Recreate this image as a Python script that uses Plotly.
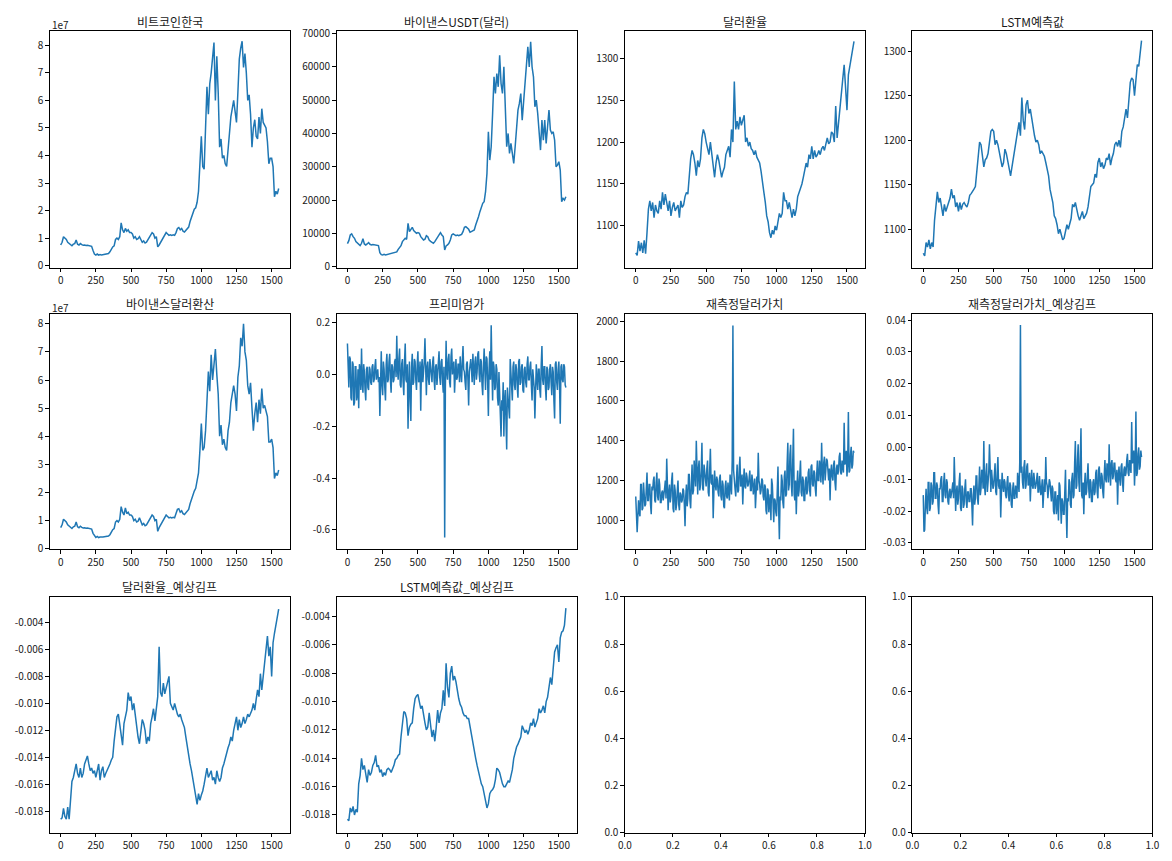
import plotly.graph_objects as go
from plotly.subplots import make_subplots

# ---------------- data ----------------
# values read off the picture; each series is sampled at a fixed step of the index
btc_krw_1e7 = [
    0.75, 0.85, 1.05, 1.0, 0.95, 0.85, 0.8, 0.75, 0.72, 0.78,
    0.8, 0.93, 0.78, 0.75, 0.8, 0.76, 0.74, 0.75, 0.73, 0.74,
    0.73, 0.72, 0.7, 0.55, 0.42, 0.38, 0.42, 0.38, 0.4, 0.39,
    0.4, 0.42, 0.43, 0.45, 0.44, 0.5, 0.6, 0.68, 0.72, 0.95,
    1.0, 0.95, 1.05, 1.55, 1.3, 1.2, 1.35, 1.25, 1.3, 1.2,
    1.2, 1.15, 1.0, 1.05, 0.95, 0.98, 1.05, 0.95, 0.85, 0.9,
    0.82, 0.85, 0.95, 1.0, 1.1, 1.2, 1.15, 1.0, 1.05, 0.68,
    0.75, 0.85, 0.95, 1.05, 1.15, 1.2, 1.15, 1.1, 1.12, 1.1,
    1.12, 1.1, 1.2, 1.35, 1.38, 1.3, 1.35, 1.25, 1.22, 1.28,
    1.3, 1.4, 1.6, 1.75, 1.95, 2.05, 2.1, 2.3, 2.7, 3.6,
    4.7, 3.6, 3.5, 5.0, 6.5, 5.5, 6.6, 7.0, 7.6, 8.1,
    6.0, 7.6, 6.3, 4.3, 4.6, 3.9, 4.0, 3.7, 3.6, 4.3,
    5.0, 5.4, 5.7, 6.0, 5.6, 5.2, 6.3, 7.5, 7.9, 8.15,
    7.2, 7.7, 7.0, 6.0, 6.2, 5.5, 4.3, 5.0, 5.3, 4.7,
    4.6, 5.4, 4.8, 5.7, 5.2, 5.1, 5.0, 4.5, 3.7, 3.9,
    3.9, 3.6, 2.5, 2.7, 2.6, 2.8,
]

binance_usdt = [
    6900, 7800, 9500, 9800, 9000, 8500, 7500, 7000, 6500, 6300,
    7000, 8400, 6800, 6500, 6800, 7200, 6700, 6500, 6600, 6500,
    6600, 6500, 6300, 4200, 3600, 3500, 3700, 3500, 3600, 3700,
    3800, 3900, 4000, 4100, 4200, 4400, 5200, 5800, 6300, 7500,
    8000, 8500, 8200, 13000, 10500, 11000, 11800, 10800, 10500, 10000,
    10200, 10000, 9000, 8500, 8000, 8200, 9300, 9000, 8000, 7600,
    7200, 7000, 7500, 8200, 8800, 9500, 10200, 9500, 9000, 5000,
    6200, 6500, 7000, 8000, 9500, 9800, 9400, 9300, 9500, 9300,
    9500, 9700, 10500, 11800, 12000, 11500, 11200, 10300, 10500, 10800,
    11000, 12500, 13500, 15000, 16500, 18000, 19000, 19500, 22500, 28000,
    40500, 32000, 36000, 46000, 57000, 52000, 58000, 54000, 63500, 55000,
    52000, 60000, 48000, 36000, 40000, 34000, 37000, 33500, 31000, 36000,
    42000, 47000, 49000, 52000, 44000, 50000, 55000, 61000, 66000, 60000,
    67500, 60000, 57000, 48000, 50000, 46000, 41000, 35000, 44000, 38000,
    44000, 37000, 42000, 47000, 41000, 40000, 40500, 38000, 30000, 30500,
    31500, 29000, 19500, 20500, 20000, 21000,
]

usd_krw = [
    1068, 1065, 1082, 1070, 1080, 1068, 1083, 1067, 1092, 1120,
    1130, 1118, 1128, 1110, 1125, 1118, 1115, 1130, 1120, 1140,
    1125, 1138, 1128, 1118, 1130, 1112, 1122, 1128, 1118, 1122,
    1125, 1110, 1130, 1122, 1125, 1135, 1140, 1138, 1165, 1180,
    1190, 1185, 1175, 1160, 1178, 1170, 1180, 1205, 1215, 1210,
    1200, 1190, 1185, 1200, 1185, 1165, 1158, 1175, 1185, 1178,
    1170, 1158, 1165, 1170, 1185, 1190, 1195, 1182, 1215, 1200,
    1272, 1215, 1225, 1215, 1230, 1220, 1225, 1232, 1200, 1205,
    1195, 1200, 1192, 1190, 1185, 1190, 1182, 1178, 1175, 1165,
    1155, 1140, 1128, 1112, 1105, 1092, 1086, 1095, 1090, 1100,
    1095, 1105, 1115, 1110, 1115, 1140, 1130, 1130, 1120, 1128,
    1118, 1110, 1120, 1112, 1120, 1135, 1140, 1145, 1150, 1158,
    1165, 1175, 1170, 1185, 1180, 1195, 1180, 1190, 1182, 1185,
    1190, 1185, 1192, 1195, 1190, 1200, 1205, 1198, 1200, 1212,
    1210, 1200, 1243, 1205, 1225, 1235, 1265, 1275, 1292, 1265,
    1238, 1280, 1292, 1300, 1310, 1320,
]

lstm_pred = [
    1073, 1070, 1085, 1080, 1088, 1078, 1085, 1080, 1110, 1125,
    1142, 1130, 1135, 1125, 1115, 1128, 1120, 1125, 1130, 1135,
    1145, 1135, 1138, 1125, 1130, 1120, 1130, 1122, 1128, 1130,
    1127, 1125, 1130, 1138, 1140, 1142, 1145, 1148, 1165, 1185,
    1198, 1195, 1182, 1170, 1178, 1180, 1185, 1195, 1210, 1212,
    1210, 1195, 1200, 1195, 1185, 1180, 1170, 1175, 1190, 1185,
    1175, 1165, 1160, 1170, 1180, 1185, 1195, 1210, 1220, 1205,
    1248, 1222, 1212, 1240, 1245, 1230, 1235, 1225, 1212, 1205,
    1198, 1200, 1195, 1185, 1188, 1185, 1182, 1175, 1168, 1160,
    1145, 1138, 1130, 1115, 1112, 1105, 1095, 1100, 1093, 1088,
    1090, 1100, 1105, 1100, 1108, 1112, 1128, 1125, 1130, 1120,
    1115, 1110, 1115, 1120, 1112, 1115, 1118, 1125, 1135, 1148,
    1150, 1152, 1162, 1158, 1175, 1180, 1170, 1175, 1168, 1172,
    1180, 1178, 1185, 1172, 1180, 1185, 1195, 1198, 1193, 1200,
    1192, 1210, 1215, 1225, 1235, 1225, 1245, 1265, 1270, 1268,
    1250, 1270, 1285, 1283, 1295, 1312,
]

binance_krw_1e7 = [
    0.75, 0.85, 1.05, 1.0, 0.95, 0.85, 0.8, 0.75, 0.72, 0.78,
    0.8, 0.95, 0.78, 0.75, 0.8, 0.76, 0.74, 0.75, 0.73, 0.74,
    0.73, 0.72, 0.7, 0.55, 0.45, 0.4, 0.44, 0.4, 0.42, 0.41,
    0.42, 0.43, 0.44, 0.46, 0.45, 0.5, 0.6, 0.68, 0.72, 0.95,
    1.0, 0.95, 1.05, 1.5, 1.3, 1.2, 1.45, 1.25, 1.3, 1.2,
    1.2, 1.15, 1.0, 1.05, 0.95, 0.98, 1.1, 0.95, 0.85, 0.9,
    0.82, 0.85, 0.95, 1.0, 1.1, 1.2, 1.15, 1.0, 1.05, 0.62,
    0.75, 0.85, 0.95, 1.05, 1.15, 1.2, 1.15, 1.1, 1.12, 1.1,
    1.12, 1.1, 1.25, 1.4, 1.42, 1.3, 1.35, 1.25, 1.22, 1.28,
    1.3, 1.4, 1.6, 1.75, 1.95, 2.05, 2.15, 2.4, 2.7, 3.5,
    4.45, 3.5, 3.6, 4.2, 5.5, 6.3, 5.6, 6.9, 6.0, 6.5,
    7.1, 6.2, 5.5, 4.0, 4.4, 3.7, 3.9, 3.6, 3.5, 4.2,
    4.5, 5.2, 5.6, 5.8, 5.5, 4.9, 6.1, 6.5, 7.5, 7.2,
    8.0, 7.0, 6.7, 5.8, 5.5, 5.9, 5.0, 4.2, 4.8, 5.2,
    4.5, 5.3, 4.8, 5.7, 5.0, 5.1, 4.9, 4.7, 3.8, 3.8,
    3.9, 3.6, 2.5, 2.7, 2.6, 2.8,
]

premium = [
    0.12, 0.02, -0.05, 0.07, 0.06, -0.09, -0.10, 0.05, 0.04, -0.12, -0.11, 0.03, 0.03, -0.10, -0.08, 0.02, -0.13, 0.04, 0.02, -0.06,
    0.10, -0.03, -0.07, 0.04, 0.01, -0.06, -0.10, 0.02, 0.03, -0.05, -0.06, 0.03, 0.02, -0.03, -0.04, 0.03, 0.04, -0.03, -0.02, 0.03,
    0.06, -0.02, 0.00, 0.02, -0.03, -0.01, -0.16, 0.03, 0.09, -0.04, -0.08, 0.05, 0.02, -0.05, -0.10, 0.04, 0.08, -0.03, -0.02, 0.05,
    0.08, -0.02, -0.07, 0.04, 0.03, -0.03, -0.02, 0.05, 0.06, -0.01, 0.15, 0.02, -0.02, 0.06, 0.10, -0.04, -0.05, 0.04, 0.06, -0.03,
    -0.08, 0.05, 0.12, -0.02, -0.03, 0.04, -0.21, -0.05, 0.05, -0.10, -0.18, 0.03, 0.08, -0.04, -0.03, 0.06, 0.05, -0.02, -0.06, 0.04,
    0.09, -0.03, -0.02, 0.05, -0.14, 0.02, 0.06, -0.03, 0.01, 0.05, 0.14, -0.04, -0.08, 0.03, 0.05, -0.02, -0.04, 0.06, 0.03, -0.03,
    -0.03, 0.05, 0.07, -0.02, -0.06, 0.03, 0.04, -0.04, 0.00, 0.06, 0.09, -0.01, -0.04, 0.05, 0.06, -0.03, -0.07, 0.03, -0.63, -0.05,
    0.13, 0.01, -0.02, 0.06, 0.08, -0.03, -0.05, 0.07, 0.10, 0.00, 0.02, 0.05, -0.07, 0.03, 0.06, -0.02, -0.01, 0.04, 0.04, -0.03,
    0.07, 0.01, -0.03, 0.05, 0.11, 0.02, 0.01, -0.03, -0.06, 0.04, 0.05, -0.02, -0.12, 0.01, 0.04, 0.06, 0.02, -0.03, 0.08, 0.03,
    -0.04, 0.05, 0.07, -0.02, 0.01, 0.08, 0.09, 0.00, -0.03, 0.06, 0.05, -0.04, -0.08, 0.03, 0.10, 0.02, -0.06, 0.07, 0.06, -0.03,
    -0.16, 0.02, 0.09, -0.02, 0.19, 0.03, -0.10, 0.05, 0.03, -0.06, -0.05, 0.04, 0.02, -0.09, -0.12, 0.01, -0.08, -0.15, -0.24, -0.10,
    -0.14, -0.03, -0.24, -0.10, -0.06, -0.18, -0.29, -0.05, -0.08, -0.12, -0.17, 0.06, 0.02, -0.05, -0.10, 0.03, 0.05, -0.04, -0.06, 0.04,
    0.02, -0.05, -0.09, 0.05, 0.06, -0.04, -0.03, 0.03, 0.04, -0.06, -0.07, 0.02, 0.03, -0.03, -0.05, 0.04, 0.07, -0.02, -0.02, 0.03,
    0.05, -0.04, -0.10, 0.02, -0.01, -0.05, -0.17, 0.03, 0.04, -0.02, -0.06, 0.02, 0.02, -0.06, -0.09, 0.04, 0.11, -0.02, -0.04, 0.03,
    0.03, -0.05, -0.10, 0.03, 0.02, -0.06, -0.05, 0.02, 0.04, -0.03, -0.08, 0.03, 0.01, -0.10, -0.17, 0.04, 0.05, -0.03, -0.06, 0.02,
    0.05, -0.04, -0.19, 0.03, 0.04, -0.02, -0.03, 0.04, 0.03, -0.04, -0.05,
]

usd_value_remeasured = [
    1120, 945, 940, 1020, 1100, 1040, 1020, 1180, 1180, 1050, 1060, 1190, 1150, 1070, 1080, 1240, 1240, 1100, 1100, 1180,
    1180, 1080, 1030, 1170, 1150, 1200, 1220, 1100, 1090, 1190, 1240, 1120, 1100, 1210, 1180, 1090, 1090, 1140, 1150, 1100,
    1120, 1160, 1200, 1110, 1310, 1120, 1050, 1140, 1180, 1090, 1120, 1200, 1240, 1060, 1040, 1180, 1150, 1050, 1080, 1150,
    1200, 1080, 1050, 1140, 1130, 1090, 1100, 1160, 1150, 1080, 970, 1120, 1180, 1070, 1110, 1230, 1230, 1100, 1060, 1180,
    1280, 1130, 1150, 1300, 1250, 1170, 1400, 1180, 1130, 1260, 1300, 1150, 1180, 1250, 1390, 1160, 1150, 1280, 1230, 1170,
    1170, 1260, 1300, 1140, 1120, 1250, 1360, 1190, 1180, 1230, 1010, 1150, 1250, 1180, 1150, 1220, 1200, 1140, 1120, 1210,
    1230, 1120, 1100, 1200, 1180, 1070, 1060, 1170, 1200, 1120, 1110, 1190, 1150, 1100, 1230, 1180, 1130, 1300, 1980, 1250,
    1220, 1160, 1120, 1250, 1280, 1140, 1150, 1260, 1320, 1170, 1180, 1230, 1080, 1190, 1260, 1170, 1160, 1240, 1220, 1170,
    1180, 1210, 1250, 1150, 1150, 1230, 1200, 1130, 1160, 1210, 1060, 1190, 1220, 1150, 1340, 1200, 1180, 1130, 1150, 1210,
    1200, 1120, 1100, 1180, 1170, 1050, 1030, 1160, 1150, 1040, 1070, 1130, 1000, 1210, 1180, 1020, 990, 1110, 1100, 1040,
    1020, 1150, 1270, 1050, 905, 1120, 1100, 1230, 1200, 1090, 1060, 1220, 1250, 1120, 1130, 1280, 1390, 1150, 1180, 1330,
    1380, 1180, 1120, 1300, 1460, 1130, 1100, 1200, 1030, 1170, 1250, 1120, 1150, 1230, 1300, 1140, 1120, 1220, 1200, 1100,
    1100, 1200, 1220, 1130, 1150, 1240, 1260, 1150, 1120, 1270, 1280, 1180, 1170, 1250, 1240, 1160, 1120, 1230, 1300, 1200,
    1200, 1300, 1270, 1190, 1390, 1250, 1180, 1290, 1320, 1200, 1240, 1310, 1300, 1220, 1200, 1260, 1100, 1240, 1280, 1220,
    1200, 1280, 1300, 1190, 1150, 1260, 1280, 1230, 1250, 1320, 1340, 1240, 1230, 1300, 1260, 1240, 1490, 1280, 1300, 1350,
    1220, 1290, 1545, 1240, 1250, 1330, 1370, 1260, 1280, 1350, 1340,
]

usd_value_kimp = [
    -0.015, -0.0265, -0.026, -0.018, -0.013, -0.019, -0.021, -0.011, -0.011, -0.020, -0.019, -0.011, -0.012, -0.018, -0.017, -0.008, -0.008, -0.016, -0.016, -0.011,
    -0.012, -0.018, -0.021, -0.013, -0.013, -0.010, -0.009, -0.017, -0.017, -0.011, -0.008, -0.015, -0.016, -0.010, -0.011, -0.017, -0.018, -0.014, -0.013, -0.016,
    -0.015, -0.013, -0.011, -0.016, -0.003, -0.015, -0.020, -0.014, -0.012, -0.018, -0.016, -0.011, -0.008, -0.019, -0.020, -0.012, -0.013, -0.019, -0.018, -0.013,
    -0.010, -0.017, -0.019, -0.014, -0.014, -0.017, -0.017, -0.013, -0.013, -0.018, -0.0245, -0.015, -0.012, -0.018, -0.016, -0.009, -0.009, -0.016, -0.018, -0.012,
    -0.006, -0.015, -0.013, -0.007, -0.008, -0.013, 0.002, -0.012, -0.015, -0.008, -0.005, -0.014, -0.012, -0.008, 0.001, -0.013, -0.014, -0.007, -0.009, -0.013,
    -0.012, -0.007, -0.005, -0.014, -0.015, -0.008, -0.003, -0.012, -0.013, -0.010, -0.022, -0.014, -0.008, -0.012, -0.014, -0.010, -0.011, -0.015, -0.016, -0.011,
    -0.009, -0.015, -0.017, -0.011, -0.012, -0.018, -0.019, -0.013, -0.011, -0.016, -0.016, -0.012, -0.013, -0.016, -0.008, -0.011, -0.014, -0.005, 0.0385, -0.008,
    -0.006, -0.011, -0.013, -0.006, -0.004, -0.013, -0.012, -0.006, -0.005, -0.012, -0.011, -0.008, -0.017, -0.011, -0.007, -0.012, -0.013, -0.008, -0.010, -0.013,
    -0.012, -0.010, -0.008, -0.014, -0.014, -0.009, -0.011, -0.015, -0.013, -0.010, -0.019, -0.012, -0.010, -0.014, -0.003, -0.011, -0.012, -0.016, -0.014, -0.010,
    -0.011, -0.015, -0.017, -0.012, -0.013, -0.020, -0.021, -0.014, -0.014, -0.021, -0.019, -0.015, -0.023, -0.011, -0.012, -0.022, -0.024, -0.016, -0.017, -0.021,
    -0.021, -0.014, -0.007, -0.020, -0.0285, -0.016, -0.017, -0.010, -0.011, -0.018, -0.019, -0.010, -0.008, -0.016, -0.015, -0.005, 0.002, -0.013, -0.012, -0.004,
    0.001, -0.011, -0.014, -0.003, 0.006, -0.015, -0.016, -0.011, -0.021, -0.012, -0.008, -0.015, -0.014, -0.009, -0.005, -0.013, -0.016, -0.010, -0.011, -0.017,
    -0.017, -0.011, -0.010, -0.015, -0.014, -0.008, -0.007, -0.014, -0.016, -0.007, -0.006, -0.012, -0.013, -0.008, -0.009, -0.014, -0.016, -0.009, -0.004, -0.010,
    -0.011, -0.005, -0.006, -0.011, 0.001, -0.007, -0.012, -0.005, -0.004, -0.010, -0.009, -0.005, -0.005, -0.010, -0.011, -0.007, -0.018, -0.009, -0.006, -0.010,
    -0.012, -0.006, -0.005, -0.011, -0.014, -0.007, -0.006, -0.009, -0.008, -0.004, -0.002, -0.008, -0.009, -0.004, -0.006, -0.008, 0.008, -0.005, -0.004, -0.001,
    -0.012, -0.006, 0.0113, -0.009, -0.008, -0.002, 0.000, -0.007, -0.006, -0.001, -0.003,
]

usd_krw_kimp = [
    -0.0186, -0.0185, -0.0178, -0.0184, -0.0186, -0.0177, -0.0186, -0.0170, -0.0158, -0.0155,
    -0.0150, -0.0145, -0.0152, -0.0155, -0.0148, -0.0155, -0.0152, -0.0145, -0.0142, -0.0139,
    -0.0145, -0.0150, -0.0148, -0.0152, -0.0150, -0.0155, -0.0150, -0.0145, -0.0157, -0.0150,
    -0.0147, -0.0155, -0.0152, -0.0150, -0.0148, -0.0145, -0.0142, -0.0140, -0.0128, -0.0120,
    -0.0110, -0.0108, -0.0116, -0.0122, -0.0131, -0.0115, -0.0110, -0.0105, -0.0092, -0.0098,
    -0.0095, -0.0105, -0.0100, -0.0110, -0.0118, -0.0125, -0.0130, -0.0118, -0.0112, -0.0115,
    -0.0120, -0.0130, -0.0125, -0.0128, -0.0115, -0.0110, -0.0104, -0.0113, -0.0103, -0.0095,
    -0.0058, -0.0092, -0.0095, -0.0085, -0.0093, -0.0088, -0.0085, -0.0080, -0.0100, -0.0102,
    -0.0105, -0.0100, -0.0105, -0.0108, -0.0110, -0.0108, -0.0112, -0.0115, -0.0118, -0.0125,
    -0.0133, -0.0140, -0.0145, -0.0150, -0.0157, -0.0162, -0.0168, -0.0175, -0.0167, -0.0172,
    -0.0168, -0.0165, -0.0160, -0.0155, -0.0148, -0.0155, -0.0152, -0.0150, -0.0157, -0.0155,
    -0.0160, -0.0150, -0.0155, -0.0158, -0.0155, -0.0148, -0.0145, -0.0140, -0.0137, -0.0133,
    -0.0130, -0.0125, -0.0128, -0.0120, -0.0115, -0.0110, -0.0120, -0.0112, -0.0118, -0.0115,
    -0.0110, -0.0115, -0.0112, -0.0108, -0.0110, -0.0107, -0.0105, -0.0100, -0.0105, -0.0097,
    -0.0090, -0.0095, -0.0078, -0.0090, -0.0080, -0.0065, -0.0060, -0.0050, -0.0065, -0.0058,
    -0.0080, -0.0055, -0.0048, -0.0042, -0.0038, -0.0030,
]

lstm_kimp = [
    -0.0183, -0.0184, -0.0175, -0.0178, -0.0174, -0.0180, -0.0176, -0.0178, -0.0158, -0.0152,
    -0.0140, -0.0148, -0.0145, -0.0150, -0.0157, -0.0148, -0.0152, -0.0150, -0.0145, -0.0143,
    -0.0138, -0.0146, -0.0145, -0.0150, -0.0148, -0.0153, -0.0150, -0.0152, -0.0148, -0.0147,
    -0.0148, -0.0150, -0.0148, -0.0145, -0.0141, -0.0140, -0.0138, -0.0137, -0.0125, -0.0115,
    -0.0107, -0.0108, -0.0112, -0.0124, -0.0118, -0.0116, -0.0115, -0.0105, -0.0098, -0.0096,
    -0.0095, -0.0100, -0.0105, -0.0103, -0.0110, -0.0115, -0.0120, -0.0118, -0.0108, -0.0115,
    -0.0125, -0.0120, -0.0128, -0.0118, -0.0106, -0.0115, -0.0108, -0.0105, -0.0092, -0.0103,
    -0.0073, -0.0090, -0.0097, -0.0080, -0.0075, -0.0085, -0.0082, -0.0086, -0.0093, -0.0098,
    -0.0102, -0.0104, -0.0108, -0.0110, -0.0110, -0.0112, -0.0112, -0.0118, -0.0125, -0.0128,
    -0.0135, -0.0140, -0.0145, -0.0150, -0.0155, -0.0158, -0.0160, -0.0165, -0.0168, -0.0175,
    -0.0172, -0.0165, -0.0163, -0.0162, -0.0160, -0.0155, -0.0147, -0.0148, -0.0150, -0.0155,
    -0.0158, -0.0160, -0.0160, -0.0158, -0.0156, -0.0157, -0.0153, -0.0148, -0.0140, -0.0135,
    -0.0132, -0.0130, -0.0127, -0.0125, -0.0117, -0.0120, -0.0122, -0.0120, -0.0123, -0.0120,
    -0.0115, -0.0117, -0.0112, -0.0118, -0.0115, -0.0112, -0.0105, -0.0108, -0.0106, -0.0103,
    -0.0108, -0.0100, -0.0097, -0.0090, -0.0083, -0.0088, -0.0078, -0.0065, -0.0062, -0.0060,
    -0.0072, -0.0055, -0.0051, -0.0050, -0.0046, -0.0034,
]

titles = ["비트코인한국", "바이낸스USDT(달러)", "달러환율", "LSTM예측값",
          "바이낸스달러환산", "프리미엄가", "재측정달러가치", "재측정달러가치_예상김프",
          "달러환율_예상김프", "LSTM예측값_예상김프"]

series = [btc_krw_1e7, binance_usdt, usd_krw, lstm_pred,
          binance_krw_1e7, premium, usd_value_remeasured, usd_value_kimp,
          usd_krw_kimp, lstm_kimp]
# index step between consecutive samples of each series
steps = [10, 10, 10, 10, 10, 5, 5, 5, 10, 10]

x_ticks = [0, 250, 500, 750, 1000, 1250, 1500]
x_tick_labels = ["0", "250", "500", "750", "1000", "1250", "1500"]
empty_ticks = [0.0, 0.2, 0.4, 0.6, 0.8, 1.0]
empty_tick_labels = ["0.0", "0.2", "0.4", "0.6", "0.8", "1.0"]

y_ticks = [
    [0, 1, 2, 3, 4, 5, 6, 7, 8],
    [0, 10000, 20000, 30000, 40000, 50000, 60000, 70000],
    [1100, 1150, 1200, 1250, 1300],
    [1100, 1150, 1200, 1250, 1300],
    [0, 1, 2, 3, 4, 5, 6, 7, 8],
    [-0.6, -0.4, -0.2, 0.0, 0.2],
    [1000, 1200, 1400, 1600, 1800, 2000],
    [-0.03, -0.02, -0.01, 0.0, 0.01, 0.02, 0.03, 0.04],
    [-0.018, -0.016, -0.014, -0.012, -0.010, -0.008, -0.006, -0.004],
    [-0.018, -0.016, -0.014, -0.012, -0.010, -0.008, -0.006, -0.004],
]
y_tick_labels = [
    ["0", "1", "2", "3", "4", "5", "6", "7", "8"],
    ["0", "10000", "20000", "30000", "40000", "50000", "60000", "70000"],
    ["1100", "1150", "1200", "1250", "1300"],
    ["1100", "1150", "1200", "1250", "1300"],
    ["0", "1", "2", "3", "4", "5", "6", "7", "8"],
    ["-0.6", "-0.4", "-0.2", "0.0", "0.2"],
    ["1000", "1200", "1400", "1600", "1800", "2000"],
    ["-0.03", "-0.02", "-0.01", "0.00", "0.01", "0.02", "0.03", "0.04"],
    ["-0.018", "-0.016", "-0.014", "-0.012", "-0.010", "-0.008", "-0.006", "-0.004"],
    ["-0.018", "-0.016", "-0.014", "-0.012", "-0.010", "-0.008", "-0.006", "-0.004"],
]

# ---------------- layout geometry (pixels of the 1172x861 page) ----------------
W, H = 1172, 861
col_px = [(43.3, 286.0), (333.5, 576.7), (625.3, 868.3), (916.3, 1159.3)]
row_px = [(22.0, 263.5), (310.0, 550.0), (598.3, 838.3)]
title_y_px = [13, 300, 588]

y_ranges = [
    [-0.083, 8.536],
    [-394, 70886],
    [1050.0, 1332.8],
    [1056.5, 1323.2],
    [-0.023, 8.361],
    [-0.676, 0.2354],
    [853.4, 2039.5],
    [-0.03206, 0.04206],
    [-0.0196, -0.0021],
    [-0.01925, -0.00261],
]
x_range = [-77.5, 1627.5]

FONT = "Noto Sans CJK KR, Malgun Gothic, sans-serif"
LINE = "#1f77b4"
TXT = "#1a1a1a"

fig = make_subplots(rows=3, cols=4)

annotations = []
for i in range(12):
    r, c = divmod(i, 4)
    xa = "xaxis" if i == 0 else f"xaxis{i + 1}"
    ya = "yaxis" if i == 0 else f"yaxis{i + 1}"
    x0, x1 = col_px[c]
    y0, y1 = row_px[r]
    common = dict(showline=True, mirror=True, linecolor="black", linewidth=1,
                  ticks="outside", ticklen=3.5, tickwidth=1, tickcolor="black",
                  showgrid=False, zeroline=False,
                  tickfont=dict(family=FONT, size=10, color=TXT),
                  tickmode="array", fixedrange=True)
    if i < len(series):
        ys = series[i]
        xs = list(range(0, steps[i] * len(ys), steps[i]))
        fig.add_trace(go.Scatter(x=xs, y=ys, mode="lines",
                                 line=dict(color=LINE, width=1.5),
                                 hoverinfo="skip", showlegend=False),
                      row=r + 1, col=c + 1)
        fig.layout[xa].update(domain=[x0 / W, x1 / W], range=x_range,
                              tickvals=x_ticks, ticktext=x_tick_labels, **common)
        fig.layout[ya].update(domain=[1 - y1 / H, 1 - y0 / H], range=y_ranges[i],
                              tickvals=y_ticks[i], ticktext=y_tick_labels[i], **common)
        annotations.append(dict(text=titles[i], xref="paper", yref="paper",
                                x=(x0 + x1) / 2 / W, y=1 - title_y_px[r] / H,
                                xanchor="center", yanchor="middle", showarrow=False,
                                font=dict(family=FONT, size=12, color=TXT)))
        if i in (0, 4):
            annotations.append(dict(text="1e7", xref="paper", yref="paper",
                                    x=x0 / W, y=1 - (y0 - 6) / H,
                                    xanchor="left", yanchor="middle", showarrow=False,
                                    font=dict(family=FONT, size=10, color=TXT)))
    else:
        # empty subplot: an empty trace so that its axes are drawn
        fig.add_trace(go.Scatter(x=[], y=[], mode="lines", hoverinfo="skip",
                                 showlegend=False), row=r + 1, col=c + 1)
        fig.layout[xa].update(domain=[x0 / W, x1 / W], range=[0, 1],
                              tickvals=empty_ticks, ticktext=empty_tick_labels, **common)
        fig.layout[ya].update(domain=[1 - y1 / H, 1 - y0 / H], range=[0, 1],
                              tickvals=empty_ticks, ticktext=empty_tick_labels, **common)

fig.update_layout(width=W, height=H, margin=dict(l=0, r=0, t=0, b=0),
                  paper_bgcolor="white", plot_bgcolor="white",
                  annotations=annotations, showlegend=False,
                  font=dict(family=FONT, color=TXT))

fig.write_html("out.html", config={"displayModeBar": False},
               post_script="document.body.style.margin='0';")
